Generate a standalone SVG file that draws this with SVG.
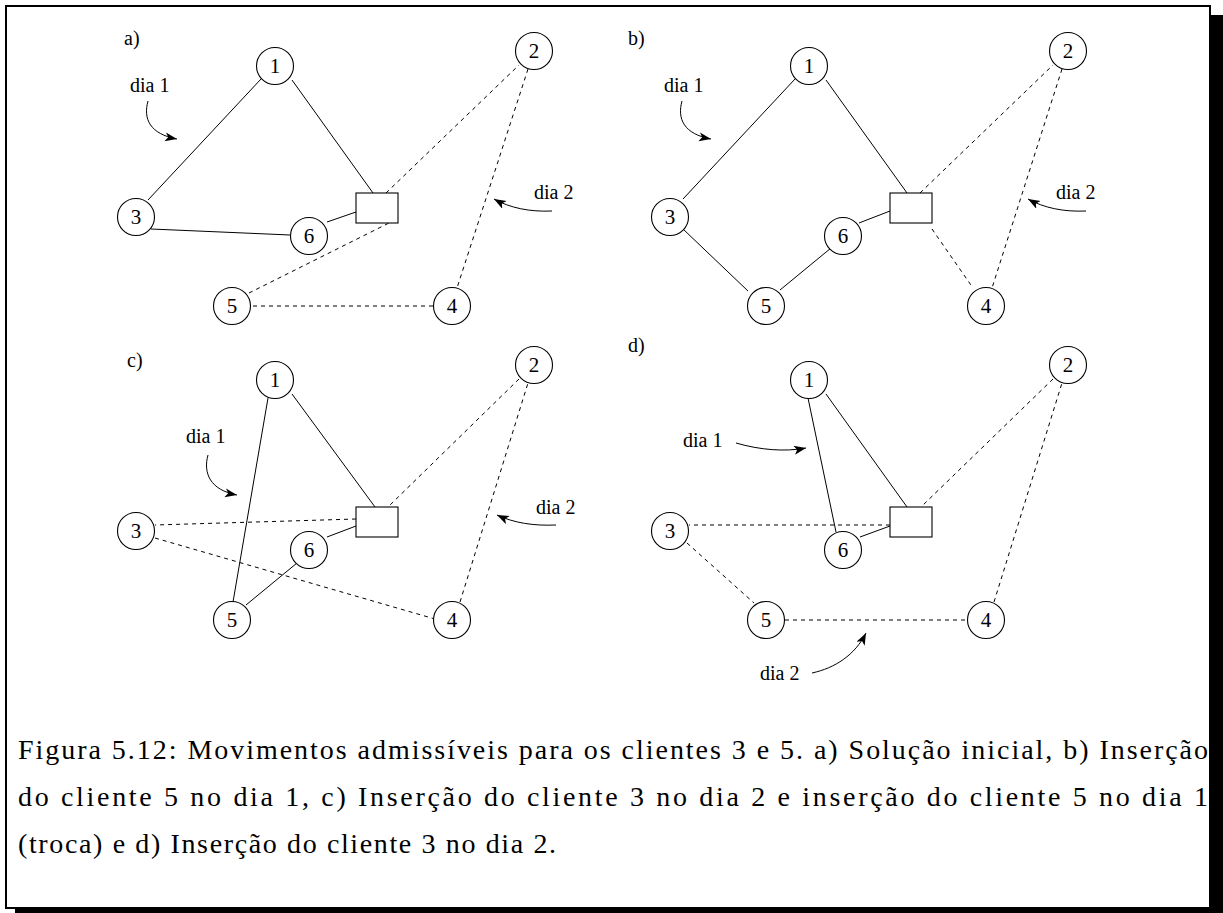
<svg xmlns="http://www.w3.org/2000/svg" width="1223" height="913" viewBox="0 0 1223 913">
<style>
.nd circle{fill:#fff;stroke:#000;stroke-width:1.1}
.nd rect{fill:#fff;stroke:#000;stroke-width:1.1}
.t{font-family:"Liberation Serif","Times New Roman",serif;font-size:20px;fill:#000}
.nd text{text-anchor:middle;font-size:21px}
.s{stroke:#000;stroke-width:1;fill:none}
.d{stroke:#000;stroke-width:1;fill:none;stroke-dasharray:4 4}
.ar{stroke:#000;stroke-width:1;fill:none;marker-end:url(#ah)}
.cap{font-family:"Liberation Serif","Times New Roman",serif;font-size:28px;fill:#000}
</style>
<defs>
<marker id="ah" markerUnits="userSpaceOnUse" markerWidth="14" markerHeight="10" refX="12" refY="4.5" orient="auto">
<path d="M0,0 L12,4.5 L0,9 L3,4.5 z" fill="#000"/>
</marker>
</defs>
<rect width="1223" height="913" fill="#fff"/>
<g id="frame">
<rect x="6" y="6" width="1204" height="902" fill="none" stroke="#000" stroke-width="2"/>
<rect x="1210" y="15" width="13" height="898" fill="#000"/>
<rect x="15" y="908" width="1208" height="5" fill="#000"/>
</g>

<!-- Panel a -->
<g id="panel-a">
<text class="t" x="124" y="45">a)</text>
<g id="a-edges">
<line class="s" x1="261" y1="79" x2="148" y2="200"/>
<line class="s" x1="292" y1="80" x2="373" y2="193"/>
<line class="s" x1="151" y1="229" x2="290" y2="235"/>
<line class="s" x1="327" y1="222" x2="356" y2="212"/>
<line class="d" x1="386" y1="193" x2="519" y2="65"/>
<line class="d" x1="528" y1="69" x2="457" y2="288"/>
<line class="d" x1="433" y1="306" x2="250" y2="306"/>
<line class="d" x1="249" y1="293" x2="389" y2="223"/>
<path class="ar" d="M148,101 C143,119 150,134 177,139"/>
<path class="ar" d="M552,211 C530,212 510,208 494,199"/>
</g>
<text class="t" x="130" y="92">dia 1</text>
<text class="t" x="534" y="199">dia 2</text>
<g id="a-depot" class="nd"><rect x="356" y="193" width="42" height="30"/></g>
<g id="a-n1" class="nd"><circle cx="275" cy="66" r="18.5"/><text class="t" x="275" y="73">1</text></g>
<g id="a-n2" class="nd"><circle cx="534" cy="51" r="18.5"/><text class="t" x="534" y="58">2</text></g>
<g id="a-n3" class="nd"><circle cx="136" cy="217" r="18.5"/><text class="t" x="136" y="224">3</text></g>
<g id="a-n4" class="nd"><circle cx="452" cy="306" r="18.5"/><text class="t" x="452" y="313">4</text></g>
<g id="a-n5" class="nd"><circle cx="232" cy="306" r="18.5"/><text class="t" x="232" y="313">5</text></g>
<g id="a-n6" class="nd"><circle cx="309" cy="236" r="18.5"/><text class="t" x="309" y="243">6</text></g>
</g>

<!-- Panel b -->
<g id="panel-b" transform="translate(534,0)">
<text class="t" x="94" y="45">b)</text>
<g id="b-edges">
<line class="s" x1="261" y1="79" x2="149" y2="199"/>
<line class="s" x1="292" y1="80" x2="373" y2="193"/>
<line class="s" x1="149" y1="229" x2="214" y2="291"/>
<line class="s" x1="246" y1="290" x2="297" y2="248"/>
<line class="s" x1="325" y1="223" x2="356" y2="211"/>
<line class="d" x1="386" y1="193" x2="519" y2="65"/>
<line class="d" x1="528" y1="69" x2="458" y2="288"/>
<line class="d" x1="398" y1="229" x2="439" y2="288"/>
<path class="ar" d="M148,101 C143,119 150,134 177,139"/>
<path class="ar" d="M552,211 C530,212 510,208 494,199"/>
</g>
<text class="t" x="130" y="92">dia 1</text>
<text class="t" x="522" y="199">dia 2</text>
<g id="b-depot" class="nd"><rect x="356" y="193" width="42" height="30"/></g>
<g id="b-n1" class="nd"><circle cx="275" cy="66" r="18.5"/><text class="t" x="275" y="73">1</text></g>
<g id="b-n2" class="nd"><circle cx="534" cy="51" r="18.5"/><text class="t" x="534" y="58">2</text></g>
<g id="b-n3" class="nd"><circle cx="136" cy="217" r="18.5"/><text class="t" x="136" y="224">3</text></g>
<g id="b-n4" class="nd"><circle cx="452" cy="306" r="18.5"/><text class="t" x="452" y="313">4</text></g>
<g id="b-n5" class="nd"><circle cx="232" cy="306" r="18.5"/><text class="t" x="232" y="313">5</text></g>
<g id="b-n6" class="nd"><circle cx="309" cy="236" r="18.5"/><text class="t" x="309" y="243">6</text></g>
</g>

<!-- Panel c -->
<g id="panel-c" transform="translate(0,314)">
<text class="t" x="127" y="53">c)</text>
<g id="c-edges">
<line class="s" x1="292" y1="80" x2="375" y2="193"/>
<line class="s" x1="268" y1="84" x2="233" y2="288"/>
<line class="s" x1="246" y1="291" x2="297" y2="249"/>
<line class="s" x1="327" y1="223" x2="356" y2="212"/>
<line class="d" x1="356" y1="205" x2="155" y2="211"/>
<line class="d" x1="155" y1="224" x2="435" y2="305"/>
<line class="d" x1="460" y1="288" x2="528" y2="69"/>
<line class="d" x1="519" y1="65" x2="388" y2="193"/>
<path class="ar" d="M208,141 C203,159 210,176 237,181"/>
<path class="ar" d="M556,211 C534,212 514,209 497,201"/>
</g>
<text class="t" x="186" y="129">dia 1</text>
<text class="t" x="536" y="200">dia 2</text>
<g id="c-depot" class="nd"><rect x="356" y="193" width="42" height="30"/></g>
<g id="c-n1" class="nd"><circle cx="275" cy="66" r="18.5"/><text class="t" x="275" y="73">1</text></g>
<g id="c-n2" class="nd"><circle cx="534" cy="51" r="18.5"/><text class="t" x="534" y="58">2</text></g>
<g id="c-n3" class="nd"><circle cx="136" cy="217" r="18.5"/><text class="t" x="136" y="224">3</text></g>
<g id="c-n4" class="nd"><circle cx="452" cy="306" r="18.5"/><text class="t" x="452" y="313">4</text></g>
<g id="c-n5" class="nd"><circle cx="232" cy="306" r="18.5"/><text class="t" x="232" y="313">5</text></g>
<g id="c-n6" class="nd"><circle cx="309" cy="236" r="18.5"/><text class="t" x="309" y="243">6</text></g>
</g>

<!-- Panel d -->
<g id="panel-d" transform="translate(534,314)">
<text class="t" x="94" y="38">d)</text>
<g id="d-edges">
<line class="s" x1="292" y1="80" x2="373" y2="193"/>
<line class="s" x1="274" y1="84" x2="302" y2="218"/>
<line class="s" x1="326" y1="223" x2="356" y2="212"/>
<line class="d" x1="356" y1="211" x2="155" y2="211"/>
<line class="d" x1="153" y1="229" x2="220" y2="289"/>
<line class="d" x1="251" y1="306" x2="433" y2="306"/>
<line class="d" x1="460" y1="288" x2="528" y2="69"/>
<line class="d" x1="519" y1="65" x2="387" y2="193"/>
<path class="ar" d="M202,129 C226,136 251,138 272,134"/>
<path class="ar" d="M278,359 C301,354 321,341 332,319"/>
</g>
<text class="t" x="149" y="133">dia 1</text>
<text class="t" x="226" y="366">dia 2</text>
<g id="d-depot" class="nd"><rect x="356" y="193" width="42" height="30"/></g>
<g id="d-n1" class="nd"><circle cx="275" cy="66" r="18.5"/><text class="t" x="275" y="73">1</text></g>
<g id="d-n2" class="nd"><circle cx="534" cy="51" r="18.5"/><text class="t" x="534" y="58">2</text></g>
<g id="d-n3" class="nd"><circle cx="136" cy="217" r="18.5"/><text class="t" x="136" y="224">3</text></g>
<g id="d-n4" class="nd"><circle cx="452" cy="306" r="18.5"/><text class="t" x="452" y="313">4</text></g>
<g id="d-n5" class="nd"><circle cx="232" cy="306" r="18.5"/><text class="t" x="232" y="313">5</text></g>
<g id="d-n6" class="nd"><circle cx="309" cy="236" r="18.5"/><text class="t" x="309" y="243">6</text></g>
</g>

<g id="caption">
<text class="cap" x="18" y="759" textLength="1190" lengthAdjust="spacing">Figura 5.12: Movimentos admissíveis para os clientes 3 e 5. a) Solução inicial, b) Inserção</text>
<text class="cap" x="18" y="806" textLength="1190" lengthAdjust="spacing">do cliente 5 no dia 1, c) Inserção do cliente 3 no dia 2 e inserção do cliente 5 no dia 1</text>
<text class="cap" x="18" y="853" textLength="538" lengthAdjust="spacing">(troca) e d) Inserção do cliente 3 no dia 2.</text>
</g>
</svg>
